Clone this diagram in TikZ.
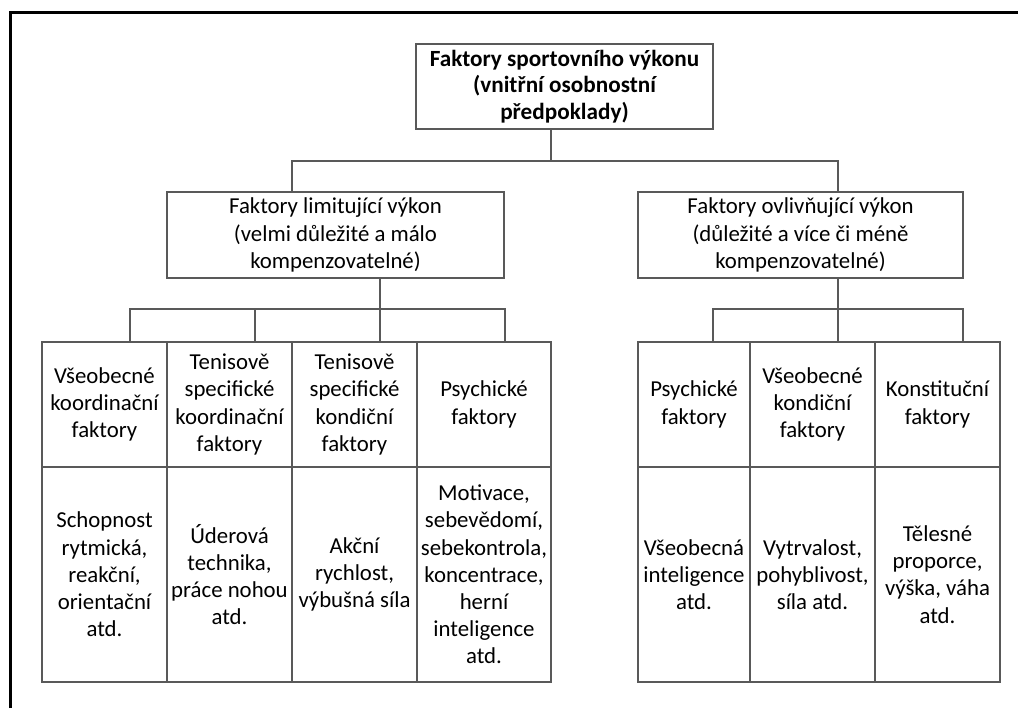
\documentclass[tikz,border=0pt]{standalone}
\usepackage{fontspec}
\setmainfont{Carlito}
\begin{document}
\begin{tikzpicture}[x=0.5pt,y=-0.5pt,
  box/.style={draw=black!65, line width=0.7pt, inner sep=0pt, align=center,
    font=\fontsize{11.4}{13.6}\selectfont},
  conn/.style={draw=black!65, line width=0.7pt},
  frame/.style={draw=black, line width=1.5pt}]
\useasboundingbox (0,0) rectangle (1018,708);
\draw[frame] (10,708) -- (10,12) -- (1018,12);

% top level
\node[box, font=\fontsize{11.6}{13.2}\selectfont\bfseries, minimum width=148.5pt, minimum height=42.5pt] (top) at (564.5,86.5)
  {Faktory sportovního výkonu\\(vnitřní osobnostní\\předpoklady)};

% second level
\node[box, minimum width=168.5pt, minimum height=43pt] (lm) at (335.5,235)
  {Faktory limitující výkon\\(velmi důležité a málo\\kompenzovatelné)};
\node[box, minimum width=162.5pt, minimum height=43pt] (rm) at (800.5,235)
  {Faktory ovlivňující výkon\\(důležité a více či méně\\kompenzovatelné)};

% left table headers
\node[box, minimum width=62.5pt, minimum height=62.5pt] (h1) at (104.5,404.5) {Všeobecné\\koordinační\\faktory};
\node[box, minimum width=62.5pt, minimum height=62.5pt] (h2) at (229.5,404.5) {Tenisově\\specifické\\koordinační\\faktory};
\node[box, minimum width=62.5pt, minimum height=62.5pt] (h3) at (354.5,404.5) {Tenisově\\specifické\\kondiční\\faktory};
\node[box, minimum width=67pt, minimum height=62.5pt] (h4) at (484,404.5) {Psychické\\faktory};
% left table details
\node[box, minimum width=62.5pt, minimum height=107.5pt] (d1) at (104.5,574.5) {Schopnost\\rytmická,\\reakční,\\orientační\\atd.};
\node[box, minimum width=62.5pt, minimum height=107.5pt] (d2) at (229.5,574.5) {Úderová\\technika,\\práce nohou\\atd.};
\node[box, minimum width=62.5pt, minimum height=107.5pt] (d3) at (354.5,574.5) {Akční\\rychlost,\\výbušná síla};
\node[box, minimum width=67pt, minimum height=107.5pt] (d4) at (484,574.5) {Motivace,\\sebevědomí,\\sebekontrola,\\koncentrace,\\herní\\inteligence\\atd.};

% right table headers
\node[box, minimum width=56pt, minimum height=62.5pt] (g1) at (694,404.5) {Psychické\\faktory};
\node[box, minimum width=62.5pt, minimum height=62.5pt] (g2) at (812.5,404.5) {Všeobecné\\kondiční\\faktory};
\node[box, minimum width=62.5pt, minimum height=62.5pt] (g3) at (937.5,404.5) {Konstituční\\faktory};
% right table details
\node[box, minimum width=56pt, minimum height=107.5pt] (e1) at (694,574.5) {Všeobecná\\inteligence\\atd.};
\node[box, minimum width=62.5pt, minimum height=107.5pt] (e2) at (812.5,574.5) {Vytrvalost,\\pohyblivost,\\síla atd.};
\node[box, minimum width=62.5pt, minimum height=107.5pt] (e3) at (937.5,574.5) {Tělesné\\proporce,\\výška, váha\\atd.};

% connector joints
\coordinate (t0) at (551,161);
\coordinate (b1) at (292,161);
\coordinate (b2) at (838,161);
\coordinate (la) at (130,309);
\coordinate (lb) at (255,309);
\coordinate (lc) at (380,309);
\coordinate (ld) at (505,309);
\coordinate (ra) at (713,309);
\coordinate (rb) at (838,309);
\coordinate (rc) at (963,309);

% connectors level 1
\draw[conn] (top.south -| t0) -- (t0);
\draw[conn] (lm.north -| b1) |- (b2) -- (rm.north -| b2);
% connectors left
\draw[conn] (h1.north -| la) |- (ld) -- (h4.north -| ld);
\draw[conn] (h2.north -| lb) -- (lb);
\draw[conn] (h3.north -| lc) -- (lm.south -| lc);
% connectors right
\draw[conn] (g1.north -| ra) |- (rc) -- (g3.north -| rc);
\draw[conn] (g2.north -| rb) -- (rm.south -| rb);
\end{tikzpicture}
\end{document}
